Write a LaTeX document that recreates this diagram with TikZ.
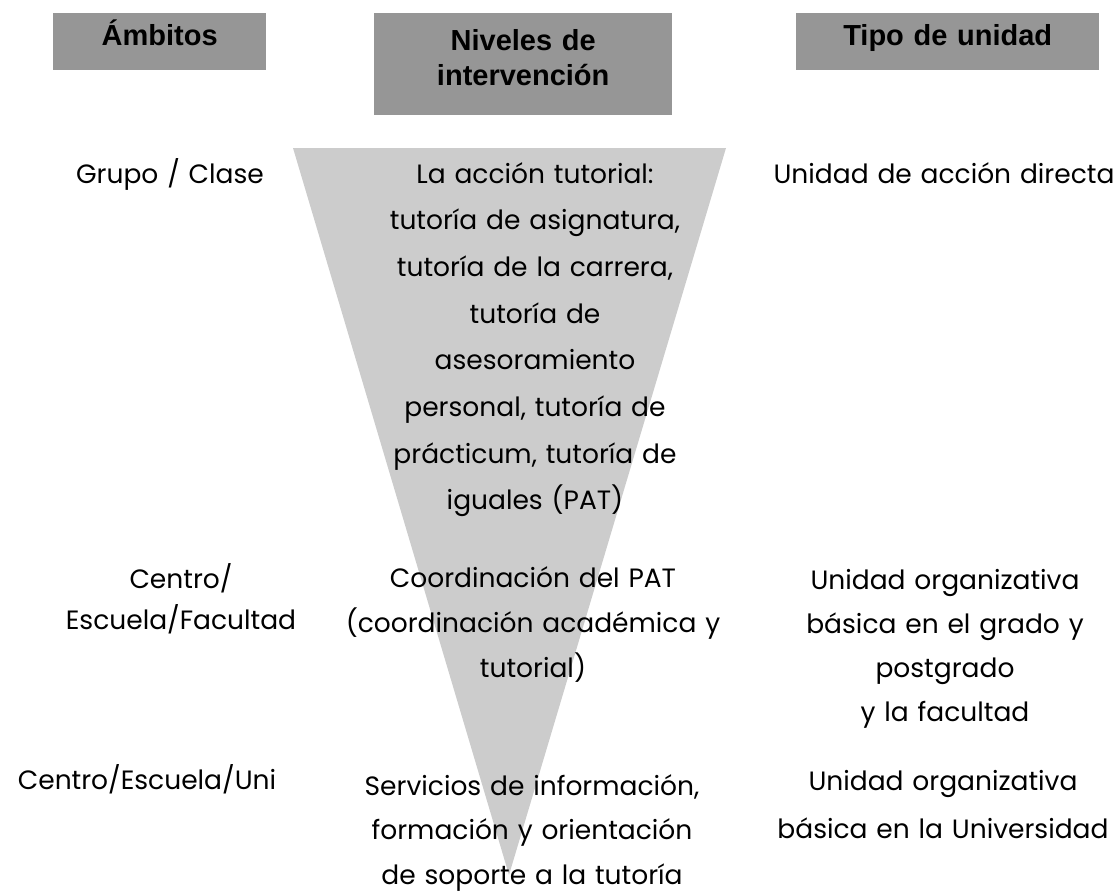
\documentclass[tikz,border=0pt]{standalone}
\usepackage{fontspec}
\usetikzlibrary{positioning}
\newfontfamily\hdrfont{Liberation Sans}
\newfontfamily\bodyfont{Poppins}
\definecolor{HeadGray}{RGB}{150,150,150}
\definecolor{FunnelGray}{RGB}{204,204,204}
\tikzset{
  hdrbox/.style={fill=HeadGray,inner sep=0pt,align=center,anchor=north west,
    font=\hdrfont\bfseries\fontsize{29}{35}\selectfont},
  bodytext/.style={inner sep=0pt,align=center,anchor=base,text width=420pt,
    font=\bodyfont\fontsize{26.5}{46.7}\selectfont}
}
\begin{document}
\begin{tikzpicture}[x=1pt,y=-1pt]
  \useasboundingbox (0,0) rectangle (1116,894);
  % funnel
  \coordinate (fl) at (293,148);
  \coordinate (fr) at (726,148);
  \coordinate (fb) at (509,875);
  \fill[FunnelGray] (fl) -- (fr) -- (fb) -- cycle;
  % headers
  \node[hdrbox,text width=213pt,text height=32pt,text depth=25pt] (hAmb) at (53,13) {Ámbitos};
  \node[hdrbox,text width=298pt,text height=37pt,text depth=65pt] (hNiv) at (374,13) {Niveles de\\intervención};
  \node[hdrbox,text width=303pt,text height=32pt,text depth=25pt] (hTipo) at (796,13) {Tipo de unidad};
  % row 1
  \node[bodytext] (grupo) at (170,183) {Grupo / Clase};
  \node[bodytext] (accion) at (535,183) {La acción tutorial:\\tutoría de asignatura,\\tutoría de la carrera,\\tutoría de\\asesoramiento\\personal, tutoría de\\prácticum, tutoría de\\iguales (PAT)};
  \node[bodytext] (directa) at (944,183) {Unidad de acción directa};
  % row 2
  \node[bodytext,font=\bodyfont\fontsize{26.5}{41}\selectfont] (facultad) at (181,588) {Centro/\\Escuela/Facultad};
  \node[bodytext,font=\bodyfont\fontsize{26.5}{45}\selectfont] (coord) at (533,587) {Coordinación del PAT\\(coordinación académica y\\tutorial)};
  \node[bodytext,font=\bodyfont\fontsize{26.5}{44}\selectfont] (orgGrado) at (945,589) {Unidad organizativa\\básica en el grado y\\postgrado\\y la facultad};
  % row 3
  \node[bodytext] (uni) at (147,789) {Centro/Escuela/Uni};
  \node[bodytext,font=\bodyfont\fontsize{26.5}{44.5}\selectfont] (servicios) at (532,795) {Servicios de información,\\formación y orientación\\de soporte a la tutoría};
  \node[bodytext,font=\bodyfont\fontsize{26.5}{48}\selectfont] (orgUni) at (943,790) {Unidad organizativa\\básica en la Universidad};
\end{tikzpicture}
\end{document}
